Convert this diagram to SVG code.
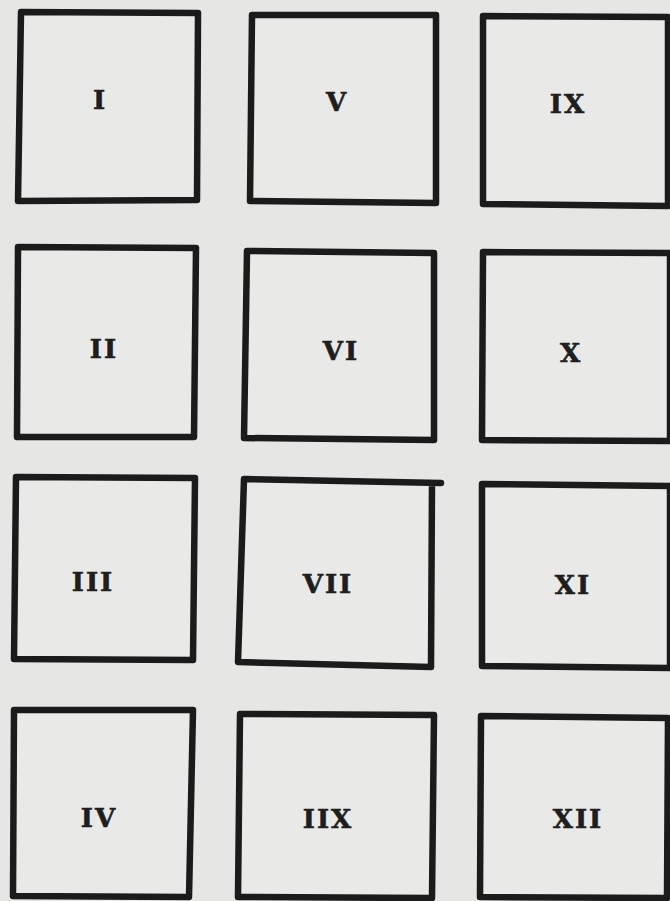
<svg xmlns="http://www.w3.org/2000/svg" width="670" height="901" viewBox="0 0 670 901">
<style>
.box{fill:#e9e9e7;stroke:#1b1b1b;stroke-width:6.5;stroke-linejoin:round;stroke-linecap:round}
.lbl{font-family:"DejaVu Serif","Liberation Serif",serif;font-weight:bold;font-size:26px;letter-spacing:2px;fill:#1e1e1e;stroke:#1e1e1e;stroke-width:0.6;text-anchor:middle;dominant-baseline:central}
</style>
<rect x="0" y="0" width="670" height="901" fill="#e6e6e4"/>
<g id="node-I"><path class="box" d="M21,12 L198,13 L197,200 L18,201 Z"/><text class="lbl" x="100" y="100">I</text></g>
<g id="node-V"><path class="box" d="M252,15 L436,15 L436,203 L250,201 Z"/><text class="lbl" x="337" y="102">V</text></g>
<g id="node-IX"><path class="box" d="M483,16 L668,17 L668,206 L483,204 Z"/><text class="lbl" x="568" y="104">IX</text></g>
<g id="node-II"><path class="box" d="M18,247 L196,248 L194,437 L17,437 Z"/><text class="lbl" x="104" y="349">II</text></g>
<g id="node-VI"><path class="box" d="M247,251 L434,253 L434,440 L244,438 Z"/><text class="lbl" x="341" y="351">VI</text></g>
<g id="node-X"><path class="box" d="M483,252 L670,253 L670,441 L482,440 Z"/><text class="lbl" x="571" y="353">X</text></g>
<g id="node-III"><path class="box" d="M16,477 L195,478 L193,660 L14,659 Z"/><text class="lbl" x="93" y="582">III</text></g>
<g id="node-VII"><path class="box" d="M244,479 L441,483 L432,483 L431,667 L238,662 Z"/><text class="lbl" x="328" y="584">VII</text></g>
<g id="node-XI"><path class="box" d="M482,484 L670,486 L670,668 L482,666 Z"/><text class="lbl" x="573" y="585">XI</text></g>
<g id="node-IV"><path class="box" d="M14,710 L193,710 L189,897 L13,896 Z"/><text class="lbl" x="99" y="818">IV</text></g>
<g id="node-IIX"><path class="box" d="M240,714 L434,715 L432,898 L238,897 Z"/><text class="lbl" x="328" y="819">IIX</text></g>
<g id="node-XII"><path class="box" d="M481,716 L668,718 L667,898 L480,897 Z"/><text class="lbl" x="578" y="819">XII</text></g>
<g id="connectors"></g>
</svg>
